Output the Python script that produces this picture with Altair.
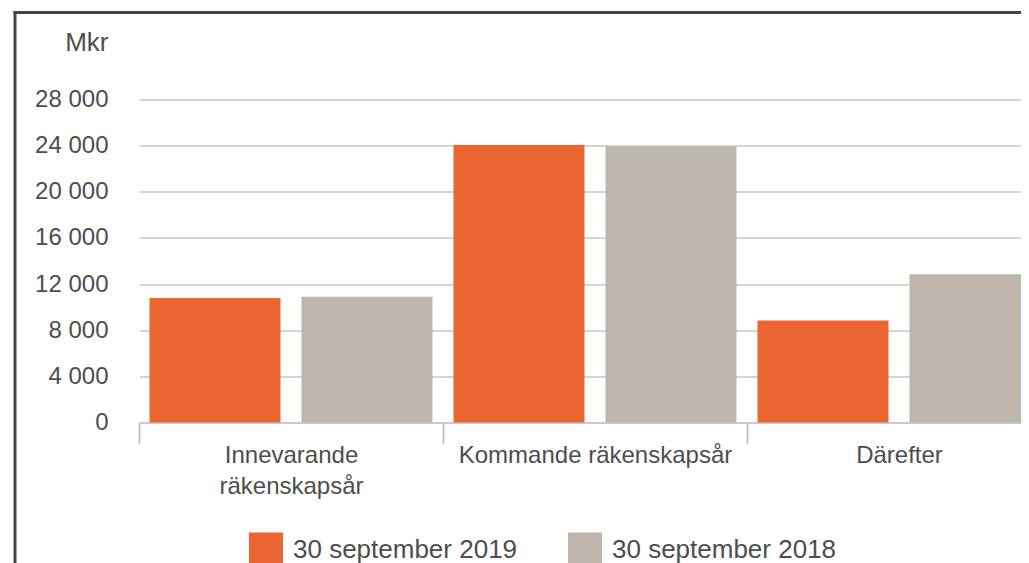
import altair as alt
import pandas as pd

categories = ["Innevarande räkenskapsår", "Kommande räkenskapsår", "Därefter"]
series = ["30 september 2019", "30 september 2018"]
values_2019 = [10800, 24050, 8850]
values_2018 = [10900, 23950, 12850]
y_ticks = [0, 4000, 8000, 12000, 16000, 20000, 24000, 28000]
colors = ["#EB6632", "#BEB6AD"]

rows = []
for c, v1, v2 in zip(categories, values_2019, values_2018):
    rows.append({"kategori": c, "serie": series[0], "varde": v1})
    rows.append({"kategori": c, "serie": series[1], "varde": v2})
df = pd.DataFrame(rows)

FONT = "Liberation Sans"
TEXT = "#4d4d4d"
GRID = "#cdc6be"

label_expr = ("datum.value == 'Innevarande räkenskapsår' ? "
              "['Innevarande', 'räkenskapsår'] : datum.value")

bars = alt.Chart(df).mark_bar().encode(
    x=alt.X(
        "kategori:N",
        sort=categories,
        scale=alt.Scale(paddingInner=0, paddingOuter=0, range=[0, 912]),
        axis=alt.Axis(
            title=None, labelAngle=0, labelFontSize=24, labelColor=TEXT,
            labelFont=FONT, labelPadding=0, tickBand="extent", tickSize=21,
            tickColor="#b8b8b8", tickWidth=1.5, domainColor=GRID,
            domainWidth=1.5, labelLineHeight=31, labelExpr=label_expr,
            labelLimit=400, grid=False,
        ),
    ),
    xOffset=alt.XOffset(
        "serie:N", sort=series,
        scale=alt.Scale(paddingInner=0.138, paddingOuter=0.069),
    ),
    y=alt.Y(
        "varde:Q",
        scale=alt.Scale(domain=[0, 28000], nice=False),
        axis=alt.Axis(
            values=y_ticks, title="Mkr", titleAngle=0, titleAlign="right",
            titleBaseline="middle", titleX=-31, titleY=-57, titleFontSize=26,
            titleFontWeight="normal", titleColor=TEXT, titleFont=FONT,
            labelFontSize=24, labelColor=TEXT, labelFont=FONT,
            labelPadding=31, ticks=False, domain=False, gridColor=GRID,
            gridWidth=1.5,
            labelExpr="replace(format(datum.value, ','), ',', ' ')",
        ),
    ),
    color=alt.Color(
        "serie:N", sort=series,
        scale=alt.Scale(domain=series, range=colors),
        legend=alt.Legend(
            title=None, orient="none", legendX=110, legendY=433,
            direction="horizontal", symbolType="square", symbolSize=1156,
            symbolStrokeWidth=0, symbolOpacity=1, labelFontSize=26,
            labelFont=FONT, labelColor=TEXT, labelOffset=10,
            columnPadding=50, labelLimit=400, padding=0,
        ),
    ),
)

frame_df = pd.DataFrame({"f": [0]})
frame_top = alt.Chart(frame_df).mark_rule(color="#454545", strokeWidth=3).encode(
    x=alt.value(-125.5), x2=alt.value(900), y=alt.value(-87)
)
frame_left = alt.Chart(frame_df).mark_rule(color="#454545", strokeWidth=3).encode(
    x=alt.value(-124), y=alt.value(-88.5), y2=alt.value(480)
)

chart = alt.layer(bars, frame_top, frame_left).properties(
    width=882,
    height=323,
    autosize=alt.AutoSizeParams(type="none"),
    padding={"left": 131, "top": 91.5, "right": 0, "bottom": 150},
    background="white",
).configure_view(stroke=None)

chart.save("out.html", embed_options={"renderer": "svg", "actions": False})
